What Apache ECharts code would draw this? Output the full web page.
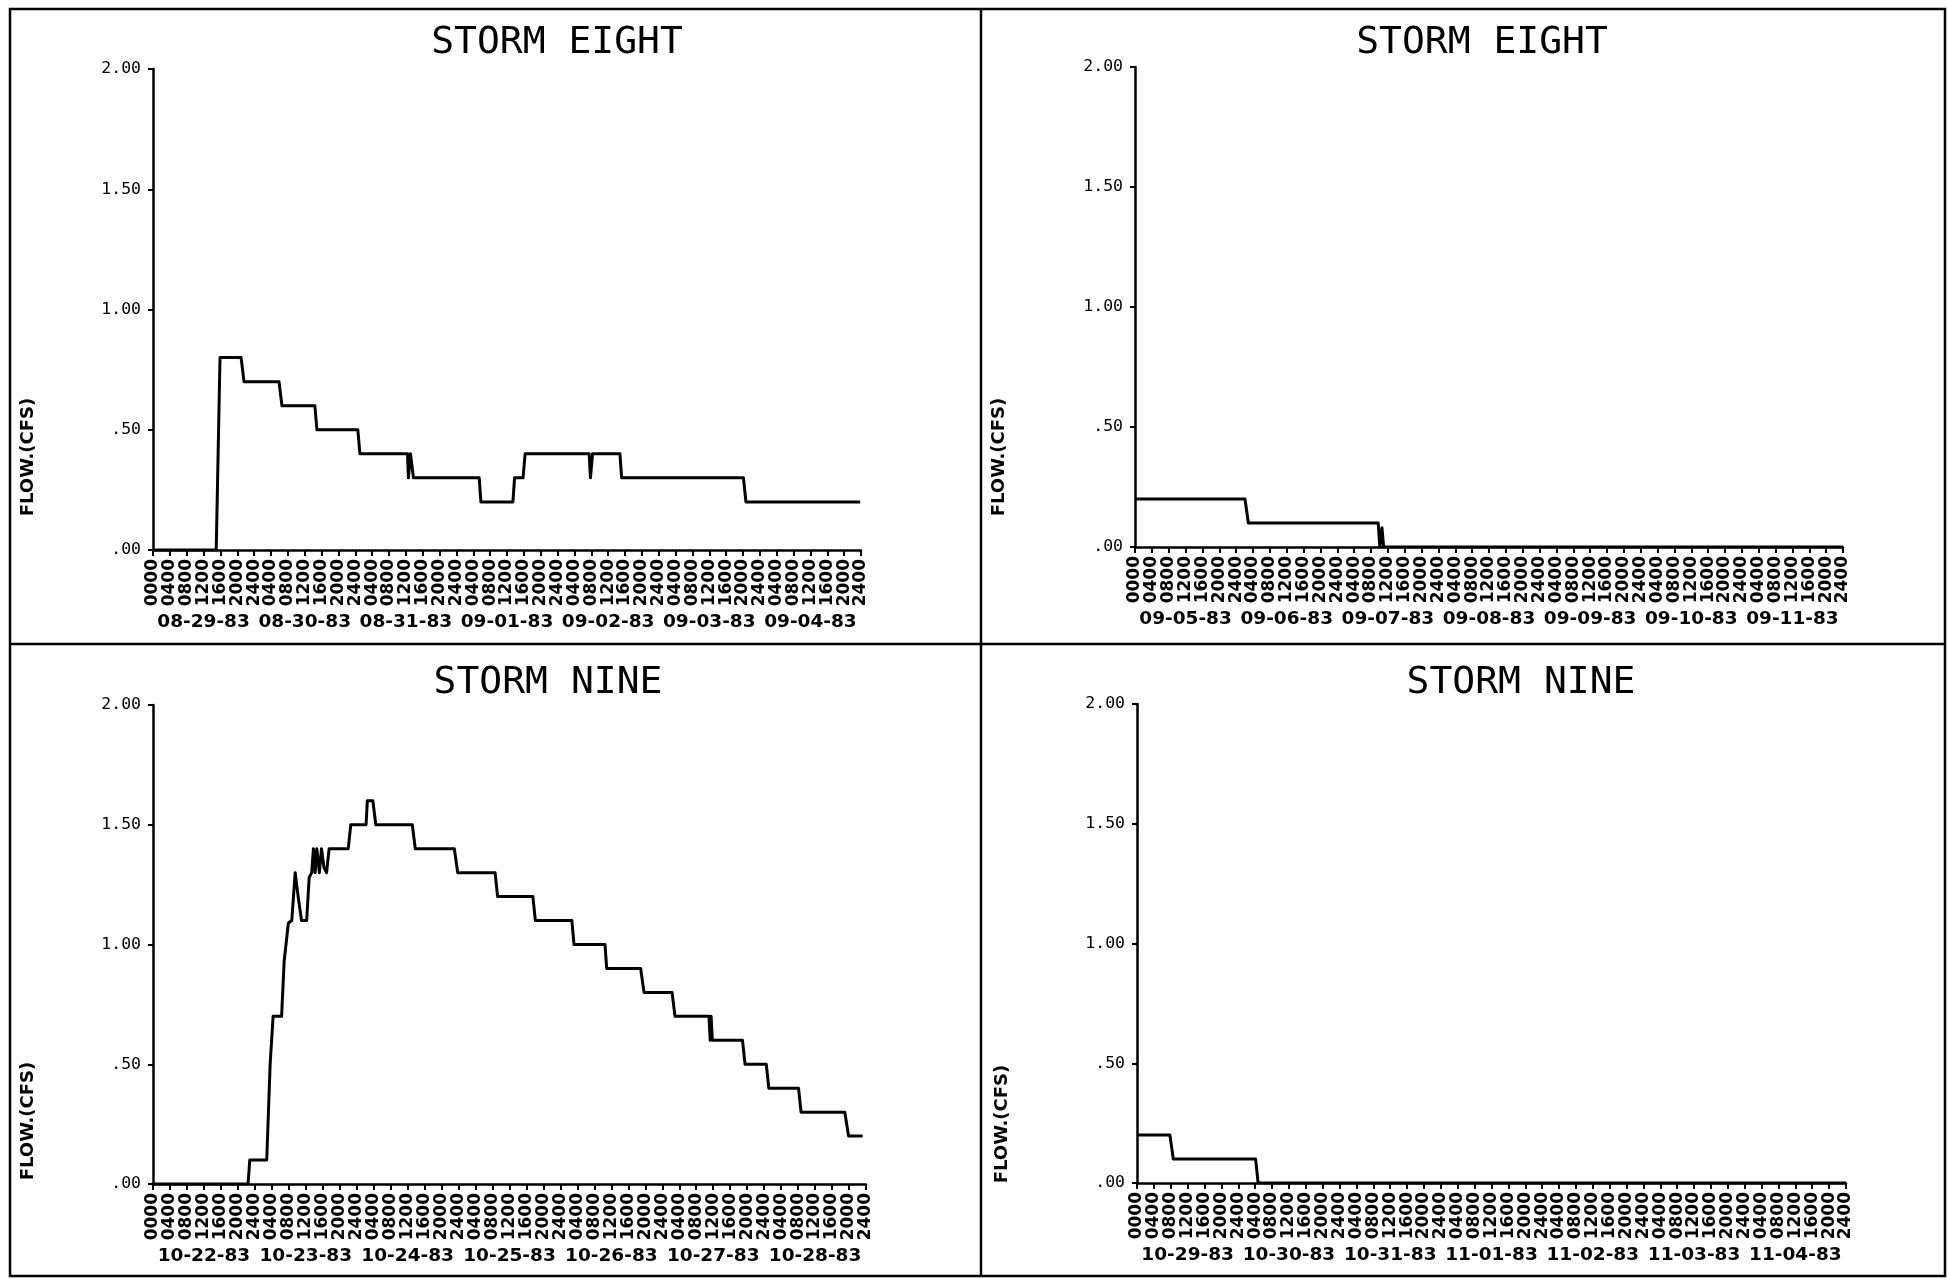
<!DOCTYPE html>
<html>
<head>
<meta charset="utf-8">
<script src="https://cdn.jsdelivr.net/npm/echarts@6/dist/echarts.min.js"></script>
<style>
  html, body { margin: 0; padding: 0; background: #fff; }
  #chart { width: 1947px; height: 1279px; }
</style>
</head>
<body>
<div id="chart"></div>
<script>
// ---- tick labels ----
// hour ticks every 4 hours across seven days (0000 at the start, then 0400..2400 per day)
const dayHourTicks = ['0400', '0800', '1200', '1600', '2000', '2400'];
const hourLabels = ['0000'].concat(
  dayHourTicks, dayHourTicks, dayHourTicks, dayHourTicks,
  dayHourTicks, dayHourTicks, dayHourTicks
);
const flowLabels = ['.00', '.50', '1.00', '1.50', '2.00'];

// ---- day labels under each week ----
const datesEightA = ['08-29-83', '08-30-83', '08-31-83', '09-01-83', '09-02-83', '09-03-83', '09-04-83'];
const datesEightB = ['09-05-83', '09-06-83', '09-07-83', '09-08-83', '09-09-83', '09-10-83', '09-11-83'];
const datesNineA  = ['10-22-83', '10-23-83', '10-24-83', '10-25-83', '10-26-83', '10-27-83', '10-28-83'];
const datesNineB  = ['10-29-83', '10-30-83', '10-31-83', '11-01-83', '11-02-83', '11-03-83', '11-04-83'];

// ---- flow records: hours since 0000 of the first day, flow in cfs ----
const eightAHours = [0, 15.0, 15.9, 20.9, 21.6, 29.9, 30.6, 38.4, 38.9, 48.6, 49.1,
  60.4, 60.6, 61.1, 61.5, 61.8, 77.4, 77.8, 85.4, 85.8, 87.8, 88.3,
  103.5, 103.8, 104.3, 110.8, 111.2, 140.1, 140.7, 167.8];
const eightAFlow  = [0, 0, 0.8, 0.8, 0.7, 0.7, 0.6, 0.6, 0.5, 0.5, 0.4,
  0.4, 0.3, 0.4, 0.4, 0.3, 0.3, 0.2, 0.2, 0.3, 0.3, 0.4,
  0.4, 0.3, 0.4, 0.4, 0.3, 0.3, 0.2, 0.2];

const eightBHours = [0, 26.1, 26.9, 57.7, 58.1, 58.6, 59.0, 168];
const eightBFlow  = [0.2, 0.2, 0.1, 0.1, 0, 0.08, 0, 0];

const nineAHours = [0, 22.4, 22.8, 26.8, 27.6, 28.3, 30.3, 30.9, 31.9, 32.7,
  33.5, 34.2, 35.0, 36.2, 36.8, 37.4, 37.8, 38.2, 38.6, 39.2, 39.7, 40.3, 40.9, 41.5,
  46.0, 46.6, 50.2, 50.5, 51.8, 52.5, 61.1, 61.8, 71.0, 71.8, 80.6, 81.2,
  89.5, 90.1, 98.7, 99.2, 106.5, 106.9, 114.9, 115.7, 122.3, 123.0,
  131.0, 131.3, 131.5, 131.8, 138.9, 139.5, 144.5, 145.1, 152.1, 152.7,
  163.0, 163.9, 167.2];
const nineAFlow  = [0, 0, 0.1, 0.1, 0.5, 0.7, 0.7, 0.93, 1.09, 1.1,
  1.3, 1.2, 1.1, 1.1, 1.28, 1.3, 1.4, 1.3, 1.4, 1.3, 1.4, 1.32, 1.3, 1.4,
  1.4, 1.5, 1.5, 1.6, 1.6, 1.5, 1.5, 1.4, 1.4, 1.3, 1.3, 1.2,
  1.2, 1.1, 1.1, 1.0, 1.0, 0.9, 0.9, 0.8, 0.8, 0.7,
  0.7, 0.6, 0.7, 0.6, 0.6, 0.5, 0.5, 0.4, 0.4, 0.3,
  0.3, 0.2, 0.2];

const nineBHours = [0, 7.8, 8.6, 28.1, 28.7, 168];
const nineBFlow  = [0.2, 0.2, 0.1, 0.1, 0, 0];

// ---- panel layout ----
const panels = [
  { title: 'STORM EIGHT', dates: datesEightA, hours: eightAHours, flow: eightAFlow,
    box: { left: 153, top: 69, width: 708, height: 481 }, titleXY: [557, 43], nameXY: [28, 457] },
  { title: 'STORM EIGHT', dates: datesEightB, hours: eightBHours, flow: eightBFlow,
    box: { left: 1135, top: 67, width: 708, height: 480 }, titleXY: [1482, 43], nameXY: [999, 457] },
  { title: 'STORM NINE', dates: datesNineA, hours: nineAHours, flow: nineAFlow,
    box: { left: 153, top: 705, width: 713, height: 479 }, titleXY: [548, 683], nameXY: [28, 1121] },
  { title: 'STORM NINE', dates: datesNineB, hours: nineBHours, flow: nineBFlow,
    box: { left: 1137, top: 704, width: 709, height: 479 }, titleXY: [1521, 683], nameXY: [1002, 1124] }
];

const INK = '#000';
const grids = [], xAxes = [], yAxes = [], series = [], titles = [], graphics = [];

panels.forEach((p, i) => {
  grids.push(Object.assign({ containLabel: false }, p.box));

  // hour-of-day axis
  xAxes.push({
    type: 'value', gridIndex: i, min: 0, max: 168, interval: 4,
    axisLine: { show: true, onZero: false, lineStyle: { color: INK, width: 2.5 } },
    axisTick: { show: true, length: 6, lineStyle: { color: INK, width: 2 } },
    splitLine: { show: false },
    axisLabel: {
      rotate: 90, margin: 9, color: INK,
      fontFamily: 'DejaVu Sans', fontWeight: 'bold', fontSize: 17,
      formatter: v => hourLabels[Math.round(v / 4)]
    }
  });
  // date axis, one band per day
  xAxes.push({
    type: 'category', gridIndex: i, data: p.dates, position: 'bottom',
    boundaryGap: true,
    axisLine: { show: false }, axisTick: { show: false }, splitLine: { show: false },
    axisLabel: {
      interval: 0, margin: 63, color: INK,
      fontFamily: 'DejaVu Sans', fontWeight: 'bold', fontSize: 18.5
    }
  });

  yAxes.push({
    type: 'value', gridIndex: i, min: 0, max: 2, interval: 0.5,
    axisLine: { show: true, lineStyle: { color: INK, width: 2.5 } },
    axisTick: { show: true, length: 5, lineStyle: { color: INK, width: 2 } },
    splitLine: { show: false },
    axisLabel: {
      margin: 12, color: INK,
      fontFamily: 'DejaVu Sans Mono', fontSize: 16.5,
      formatter: v => flowLabels[Math.round(v / 0.5)]
    }
  });

  series.push({
    type: 'line', xAxisIndex: 2 * i, yAxisIndex: i,
    data: p.hours.map((h, k) => [h, p.flow[k]]),
    showSymbol: false, symbol: 'none',
    lineStyle: { color: INK, width: 3, join: 'round' },
    animation: false
  });

  titles.push({
    text: p.title, left: p.titleXY[0], top: p.titleXY[1],
    textAlign: 'center', textVerticalAlign: 'middle', padding: 0,
    textStyle: { fontFamily: 'DejaVu Sans Mono', fontWeight: 'normal', fontSize: 38, color: INK }
  });

  graphics.push({
    type: 'text', x: p.nameXY[0], y: p.nameXY[1], rotation: Math.PI / 2,
    style: {
      text: 'FLOW.(CFS)', fill: INK,
      font: 'bold 18px "DejaVu Sans"',
      textAlign: 'center', textVerticalAlign: 'middle',
      align: 'center', verticalAlign: 'middle'
    }
  });
});

// sheet frame and quadrant dividers
const frameStyle = { stroke: INK, lineWidth: 2.5, fill: null };
graphics.push(
  { type: 'rect', shape: { x: 10, y: 9, width: 1935, height: 1267 }, style: frameStyle },
  { type: 'line', shape: { x1: 981, y1: 9, x2: 981, y2: 1276 }, style: frameStyle },
  { type: 'line', shape: { x1: 10, y1: 644, x2: 1945, y2: 644 }, style: frameStyle }
);

const chart = echarts.init(document.getElementById('chart'), null, { renderer: 'canvas' });
chart.setOption({
  backgroundColor: '#fff',
  animation: false,
  title: titles,
  grid: grids,
  xAxis: xAxes,
  yAxis: yAxes,
  series: series,
  graphic: { elements: graphics }
});
</script>
</body>
</html>
